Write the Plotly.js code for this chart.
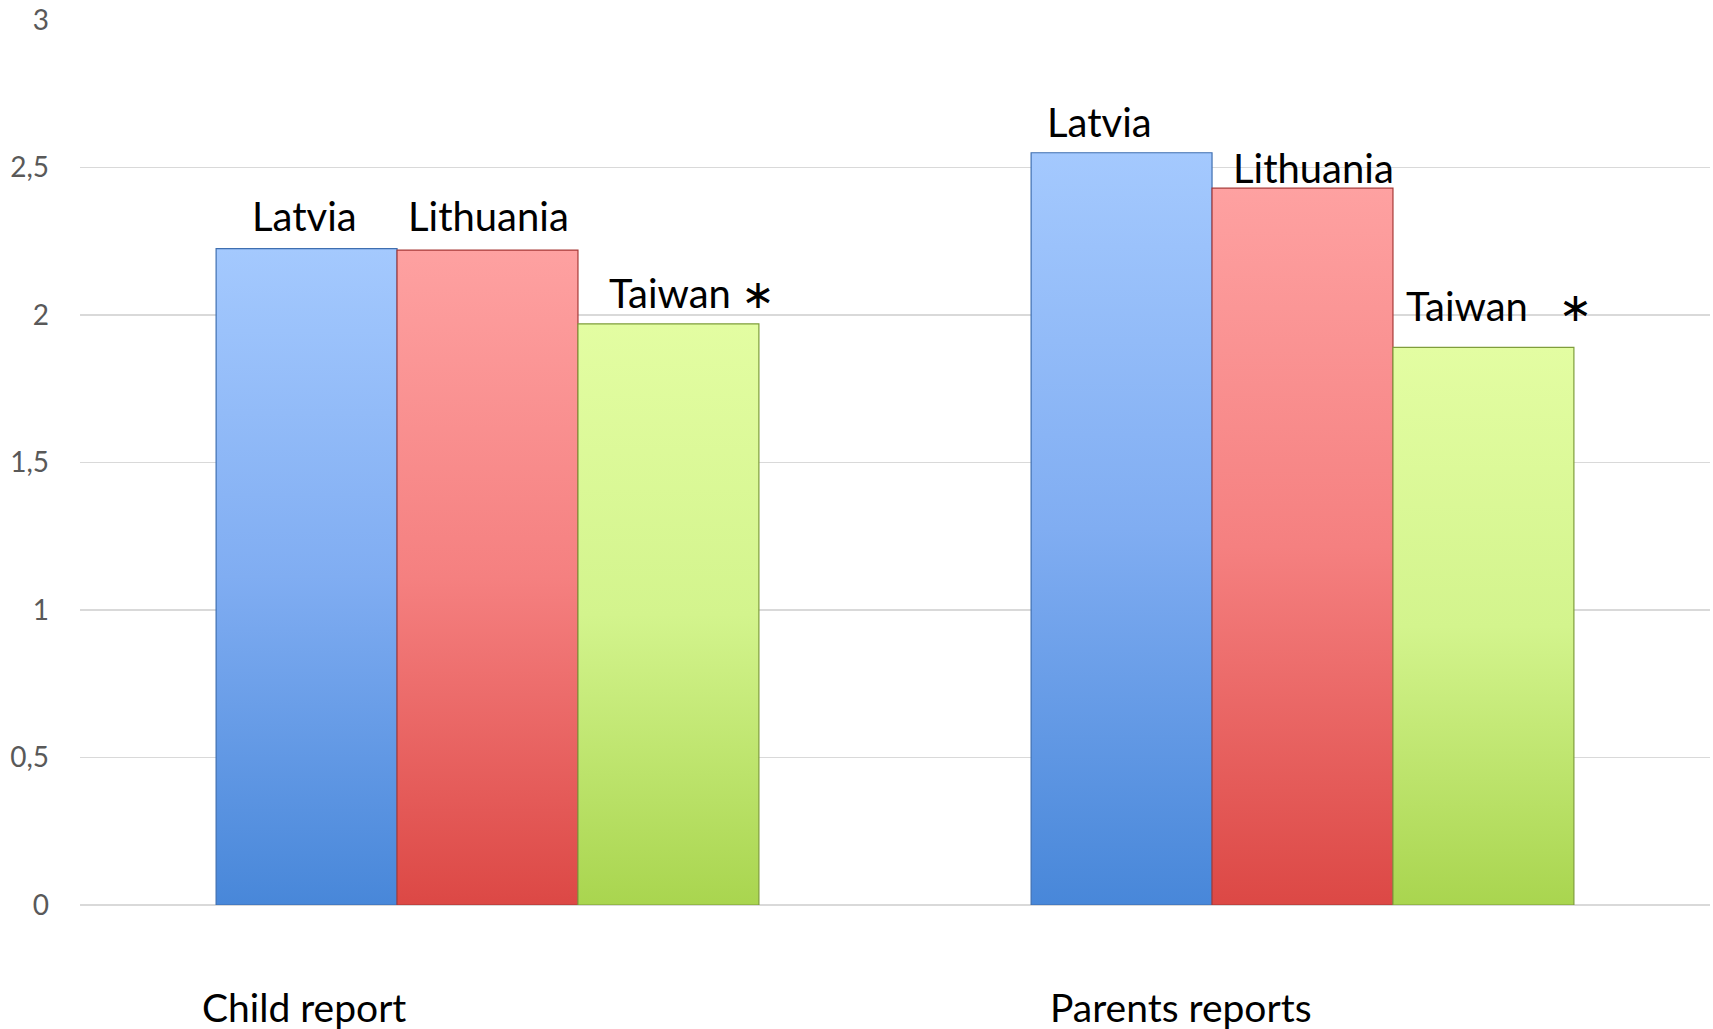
<!DOCTYPE html>
<html>
<head>
<meta charset="utf-8">
<script src="https://cdn.plot.ly/plotly-3.0.1.min.js"></script>
<style>
  html, body { margin: 0; padding: 0; background: #ffffff; }
  #chart { width: 1713px; height: 1029px; }
</style>
</head>
<body>
<div id="chart"></div>
<script>
// ---- data ----
const categories = ["Child report", "Parents reports"];
const seriesNames = ["Latvia", "Lithuania", "Taiwan"];
const latvia    = [2.225, 2.55];
const lithuania = [2.22, 2.43];
const taiwan    = [1.97, 1.89];
const barLabels = [
  ["Latvia", "Latvia"],
  ["Lithuania", "Lithuania"],
  ["Taiwan *", "Taiwan\u00a0\u00a0\u00a0*"]
];
const yTickVals = [0, 0.5, 1, 1.5, 2, 2.5, 3];
const yTickText = ["0", "0,5", "1", "1,5", "2", "2,5", "3"];

// ---- styles ----
const FONT = "Lato, 'Open Sans', sans-serif";
const colors = {
  top:    ["#a4c9fe", "#fea1a1", "#e3fda2"],
  mid:    ["#80adf2", "#f58080", "#d3f48d"],
  bottom: ["#4887d9", "#dc4845", "#a9d54f"],
  edge:   ["#3f6fb0", "#a83a38", "#7f9d3c"]
};
// label offsets [dx px, dy px] relative to bar centre / bar top
const labelOffsets = [
  [[-2, 33], [-22, 31]],
  [[1, 34], [11, 20]],
  [[24, 31], [16, 41]]
];
const bargap = 0.334;
const barW = (1 - bargap) / 3;

function styleStar(t) {
  return t.replace("*", "<span style=\"font-family:'DejaVu Sans';font-size:40px\">\u2217</span>");
}

const values = [latvia, lithuania, taiwan];
const traces = values.map((v, i) => ({
  type: "bar",
  name: seriesNames[i],
  x: categories,
  y: v,
  marker: { color: colors.mid[i], line: { color: colors.edge[i], width: 1.2 } },
  hoverinfo: "skip"
}));

const annotations = [];
values.forEach((v, i) => {
  v.forEach((val, j) => {
    annotations.push({
      xref: "x", yref: "y",
      x: j + (i - 1) * barW,
      y: val,
      text: styleStar(barLabels[i][j]),
      showarrow: false,
      xanchor: "center", yanchor: "middle",
      xshift: labelOffsets[i][j][0],
      yshift: labelOffsets[i][j][1],
      font: { family: FONT, size: 40, color: "#000000" }
    });
  });
});
const catShifts = [-184, -122];
categories.forEach((c, j) => {
  annotations.push({
    xref: "x", yref: "paper",
    x: j, y: 0,
    text: c,
    showarrow: false,
    xanchor: "center", yanchor: "middle",
    xshift: catShifts[j], yshift: -102,
    font: { family: FONT, size: 39, color: "#000000" }
  });
});

const layout = {
  width: 1713, height: 1029,
  margin: { l: 80, r: 3, t: 20, b: 124 },
  paper_bgcolor: "#ffffff",
  plot_bgcolor: "#ffffff",
  showlegend: false,
  barmode: "group",
  bargap: bargap,
  bargroupgap: 0,
  font: { family: FONT },
  xaxis: {
    type: "category",
    showticklabels: false,
    showgrid: false,
    zeroline: false,
    showline: false,
    ticks: ""
  },
  yaxis: {
    range: [0, 3],
    tickvals: yTickVals,
    ticktext: yTickText,
    showgrid: true,
    gridcolor: "#d9d9d9",
    gridwidth: 1.5,
    zeroline: true,
    zerolinecolor: "#d9d9d9",
    zerolinewidth: 1.5,
    showline: false,
    ticks: "",
    ticklabelstandoff: 30,
    tickfont: { family: FONT, size: 28, color: "#595959" }
  },
  annotations: annotations
};

Plotly.newPlot("chart", traces, layout, { staticPlot: true, displayModeBar: false }).then(gd => {
  // apply vertical gradients to the bars drawn by Plotly
  const svg = gd.querySelector("svg.main-svg");
  const NS = "http://www.w3.org/2000/svg";
  let defs = svg.querySelector("defs");
  if (!defs) { defs = document.createElementNS(NS, "defs"); svg.insertBefore(defs, svg.firstChild); }
  seriesNames.forEach((n, i) => {
    const g = document.createElementNS(NS, "linearGradient");
    g.setAttribute("id", "grad" + i);
    g.setAttribute("x1", "0"); g.setAttribute("y1", "0");
    g.setAttribute("x2", "0"); g.setAttribute("y2", "1");
    [[0, colors.top[i]], [0.5, colors.mid[i]], [1, colors.bottom[i]]].forEach(([o, c]) => {
      const s = document.createElementNS(NS, "stop");
      s.setAttribute("offset", o);
      s.setAttribute("stop-color", c);
      g.appendChild(s);
    });
    defs.appendChild(g);
  });
  gd.querySelectorAll(".barlayer .trace").forEach((tr, i) => {
    tr.querySelectorAll("path").forEach(p => {
      p.style.fill = "url(#grad" + i + ")";
    });
  });
});
</script>
</body>
</html>
